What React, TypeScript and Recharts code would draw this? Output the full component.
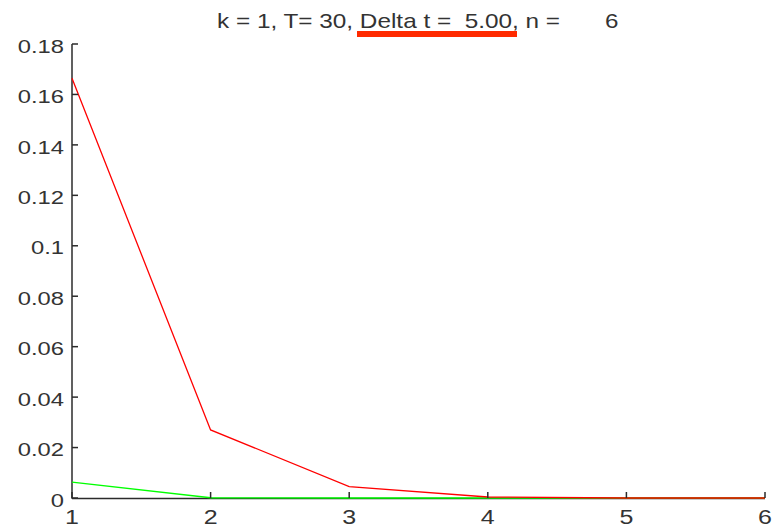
import React from "react";
import { LineChart, Line, XAxis, YAxis, Customized } from "recharts";

// Step index along the horizontal axis
const steps = [1, 2, 3, 4, 5, 6];
// Error curves per step
const redSeries = [0.1664, 0.027, 0.0045, 0.0004, 0, 0];
const greenSeries = [0.0063, 0.0001, 0, 0, 0, 0];
// Tick labels
const xTicks = [1, 2, 3, 4, 5, 6];
const yTicks = [0, 0.02, 0.04, 0.06, 0.08, 0.1, 0.12, 0.14, 0.16, 0.18];

const titleMain = "k = 1, T= 30, Delta t =  5.00, n =";
const titleN = "6";

const data = steps.map((s, i) => ({ step: s, red: redSeries[i], green: greenSeries[i] }));

const WIDTH = 775;
const HEIGHT = 529;
const MARGIN = { top: 44, right: 10, bottom: 30, left: 71 };
const AXIS_BAND = 1;

const FONT = "'Liberation Sans', Arial, sans-serif";
const AXIS_COLOR = "#2b2b2b";
const TEXT_COLOR = "#333";
// Recharts places tick text at tickSize + tickMargin away from the axis line
const TICK_OFFSET = 8;
const TICK_LEN = 6;

const XTick = (props: any) => {
  const { x, y, payload } = props;
  const axisY = y - TICK_OFFSET;
  return (
    <g>
      <line x1={x} x2={x} y1={axisY} y2={axisY - TICK_LEN} stroke={AXIS_COLOR} strokeWidth={1.5} />
      <g transform={`translate(${x},${axisY + 26}) scale(1.25,1)`}>
        <text x={0} y={0} textAnchor="middle" fontFamily={FONT} fontSize={20} fill={TEXT_COLOR}>
          {payload.value}
        </text>
      </g>
    </g>
  );
};

const YTick = (props: any) => {
  const { x, y, payload } = props;
  const axisX = x + TICK_OFFSET;
  return (
    <g>
      <line x1={axisX} x2={axisX + TICK_LEN} y1={y} y2={y} stroke={AXIS_COLOR} strokeWidth={1.5} />
      <g transform={`translate(${axisX - 8},${y + 8.7}) scale(1.25,1)`}>
        <text x={0} y={0} textAnchor="end" fontFamily={FONT} fontSize={19} fill={TEXT_COLOR}>
          {String(payload.value)}
        </text>
      </g>
    </g>
  );
};

// Left and bottom spines, drawn beneath the data lines
const Spines = () => {
  const left = MARGIN.left + AXIS_BAND;
  const bottom = HEIGHT - MARGIN.bottom - AXIS_BAND;
  const right = WIDTH - MARGIN.right;
  const top = MARGIN.top;
  return (
    <g stroke={AXIS_COLOR} strokeWidth={1.5} fill="none">
      <line x1={left} x2={left} y1={top} y2={bottom + 0.75} />
      <line x1={left} x2={right} y1={bottom + 0.6} y2={bottom + 0.6} />
    </g>
  );
};

const Title = () => (
  <g fontFamily={FONT} fontSize={21} fill={TEXT_COLOR}>
    <text
      x={217}
      y={27.5}
      textLength={343}
      lengthAdjust="spacingAndGlyphs"
      style={{ whiteSpace: "pre" }}
      xmlSpace="preserve"
    >
      {titleMain}
    </text>
    <g transform="translate(605,27.5) scale(1.15,1)">
      <text x={0} y={0}>{titleN}</text>
    </g>
    <rect x={357} y={31} width={160} height={6} fill="#ff2a00" />
  </g>
);

export default function App() {
  return (
    <div style={{ position: "absolute", left: 0, top: 0, background: "#fff" }}>
      <LineChart width={WIDTH} height={HEIGHT} data={data} margin={MARGIN}>
        <Customized component={Spines} />
        <XAxis
          dataKey="step"
          type="number"
          domain={[1, 6]}
          ticks={xTicks}
          height={AXIS_BAND}
          axisLine={false}
          tickLine={false}
          tick={<XTick />}
          interval={0}
        />
        <YAxis
          type="number"
          domain={[0, 0.18]}
          ticks={yTicks}
          width={AXIS_BAND}
          axisLine={false}
          tickLine={false}
          tick={<YTick />}
          interval={0}
        />
        <Line
          dataKey="green"
          stroke="#00ff00"
          strokeWidth={1.4}
          dot={false}
          isAnimationActive={false}
        />
        <Line
          dataKey="red"
          stroke="#ff0000"
          strokeWidth={1.3}
          dot={false}
          isAnimationActive={false}
        />
        <Customized component={Title} />
      </LineChart>
    </div>
  );
}
